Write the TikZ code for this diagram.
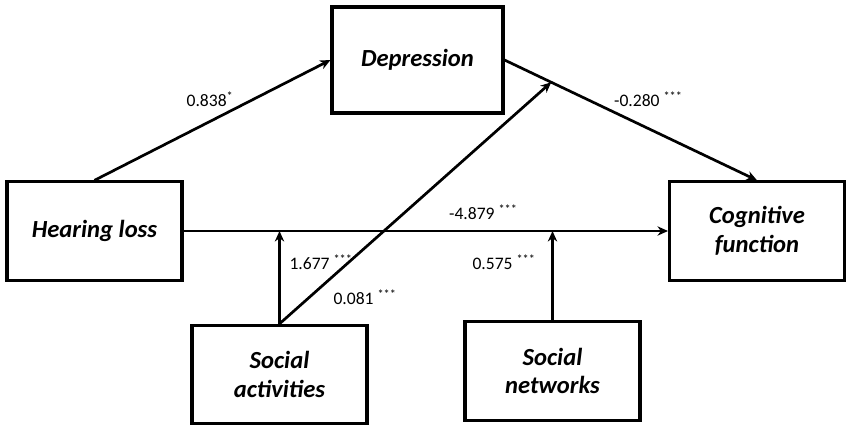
\documentclass[tikz,border=0pt]{standalone}
\usepackage{fontspec}
\setmainfont{Carlito}
\usetikzlibrary{arrows.meta, positioning}
\tikzset{
	var/.style={
		rectangle, 
		minimum width=5.25cm, 
		minimum height=2.95cm, 
		text centered, 
		align=center,
		draw=black, 
		line width=2.6pt,
		font=\fontsize{21}{24.5}\selectfont\bfseries\itshape
	},
	coef/.style={
		inner sep=1pt,
		font=\fontsize{15}{18}\selectfont
	},
	arrow/.style={line width=2.3pt,-{Stealth[length=9pt,width=8pt]}}
}

\begin{document}
\begin{tikzpicture}
				\useasboundingbox (0,0) rectangle (25.53,-12.93);
				\node (dep) [var, minimum width=5.13cm, minimum height=3.18cm] at (12.525,-1.8) {Depression};
				\node (hear) [var] at (2.835,-6.93) {Hearing loss};
				\node (cog) [var] at (22.71,-6.93) {Cognitive\\function};
				\node (act) [var] at (8.385,-11.235) {Social\\activities};
				\node (net) [var] at (16.575,-11.13) {Social\\networks};
				
				\draw [arrow] (hear.north) -- (dep.west);
				\draw [arrow] (dep.east) -- (cog.north);
				\draw [arrow] (hear.east) -- (cog.west);
				\draw [arrow] (act.north) -- (act.north |- hear.east);
				\draw [arrow] (net.north) -- (net.north |- hear.east);
				\path (dep.east) -- (cog.north) coordinate[pos=0.185] (mod);
				\draw [arrow] (act.north) -- (mod);
				
				\node (c1) [coef] at (6.3,-2.97) {0.838\textsuperscript{*}};
				\node (c2) [coef] at (19.45,-2.97) {-0.280 \textsuperscript{***}};
				\node (c3) [coef] at (14.5,-6.36) {-4.879 \textsuperscript{***}};
				\node (c4) [coef] at (9.63,-7.86) {1.677 \textsuperscript{***}};
				\node (c5) [coef] at (10.95,-8.91) {0.081 \textsuperscript{***}};
				\node (c6) [coef] at (15.12,-7.86) {0.575 \textsuperscript{***}};
			\end{tikzpicture}
\end{document}
